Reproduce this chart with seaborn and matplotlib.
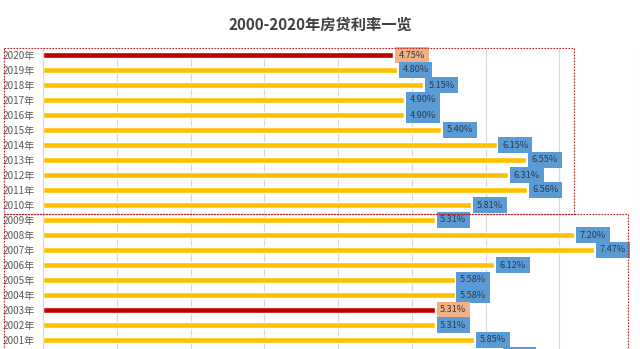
import matplotlib
matplotlib.use("Agg")
import matplotlib.pyplot as plt
import matplotlib.transforms as mtransforms
from matplotlib.patches import Rectangle
import seaborn as sns
import pandas as pd

# Five-year mortgage rates by year (%)
years = ["2020年", "2019年", "2018年", "2017年", "2016年", "2015年", "2014年",
         "2013年", "2012年", "2011年", "2010年", "2009年", "2008年", "2007年",
         "2006年", "2005年", "2004年", "2003年", "2002年", "2001年", "2000年"]
rates = [4.75, 4.80, 5.15, 4.90, 4.90, 5.40, 6.15, 6.55, 6.31, 6.56, 5.81,
         5.31, 7.20, 7.47, 6.12, 5.58, 5.58, 5.31, 5.31, 5.85, 6.21]
highlight_years = ["2020年", "2003年"]
title = "2000-2020年房贷利率一览"

BAR_GOLD = "#FFC000"
BAR_RED = "#C00000"
LABEL_BLUE = "#5B9BD5"
LABEL_ORANGE = "#F4B183"

sns.set_theme(style="white")
plt.rcParams["font.family"] = ["Noto Sans CJK SC", "DejaVu Sans"]

df = pd.DataFrame({"year": years, "rate": rates})
palette = {y: (BAR_RED if y in highlight_years else BAR_GOLD) for y in years}

W, H = 640, 349
fig = plt.figure(figsize=(W / 100, H / 100), dpi=100)
fig.patch.set_facecolor("white")

# Plot area runs past the bottom edge, so the last row is clipped
left, right = 43, 633
top, bottom = 47.5, 362.5
ax = fig.add_axes([left / W, 1 - bottom / H, (right - left) / W, (bottom - top) / H])

sns.barplot(data=df, x="rate", y="year", hue="year", palette=palette,
            legend=False, orient="h", width=0.38, saturation=1, ax=ax)

ax.set_xlim(0, 8)
ax.set_xticks(range(0, 9))
ax.set_xticklabels([])
ax.set_xlabel("")
ax.set_ylabel("")
ax.grid(axis="x", color="#D9D9D9", linewidth=0.8)
ax.grid(axis="y", visible=False)
ax.set_axisbelow(True)
for s in ["top", "right", "bottom"]:
    ax.spines[s].set_visible(False)
ax.spines["left"].set_color("#D9D9D9")
ax.spines["left"].set_linewidth(0.8)
ax.tick_params(axis="y", length=0, pad=6, labelsize=7.2, labelcolor="#595959")
ax.tick_params(axis="x", length=0)

# Value labels in filled boxes beside each bar
for i, (y, v) in enumerate(zip(years, rates)):
    face = LABEL_ORANGE if y in highlight_years else LABEL_BLUE
    ax.annotate(f"{v:.2f}%", xy=(v, i), xytext=(4, 0), textcoords="offset points",
                ha="left", va="center", fontsize=6.6, color="#2E3A4A",
                bbox=dict(boxstyle="square,pad=0.4", facecolor=face,
                          edgecolor="none"),
                annotation_clip=False)

# Dashed frames grouping the two decades
trans = mtransforms.blended_transform_factory(fig.transFigure, ax.transData)
frame_style = dict(fill=False, edgecolor="#B22222", linewidth=0.8,
                   linestyle=(0, (1.5, 1.2)), transform=trans, clip_on=False)
fig.patches.append(Rectangle((4 / W, -0.5), (574 - 4) / W, 11.1, **frame_style))
fig.patches.append(Rectangle((4 / W, 10.6), (628 - 4) / W, 12, **frame_style))

fig.text(0.5, 1 - 25 / H, title, ha="center", va="center", fontsize=11,
         fontweight="bold", color="#404040")

fig.savefig("out.png", dpi=100)
